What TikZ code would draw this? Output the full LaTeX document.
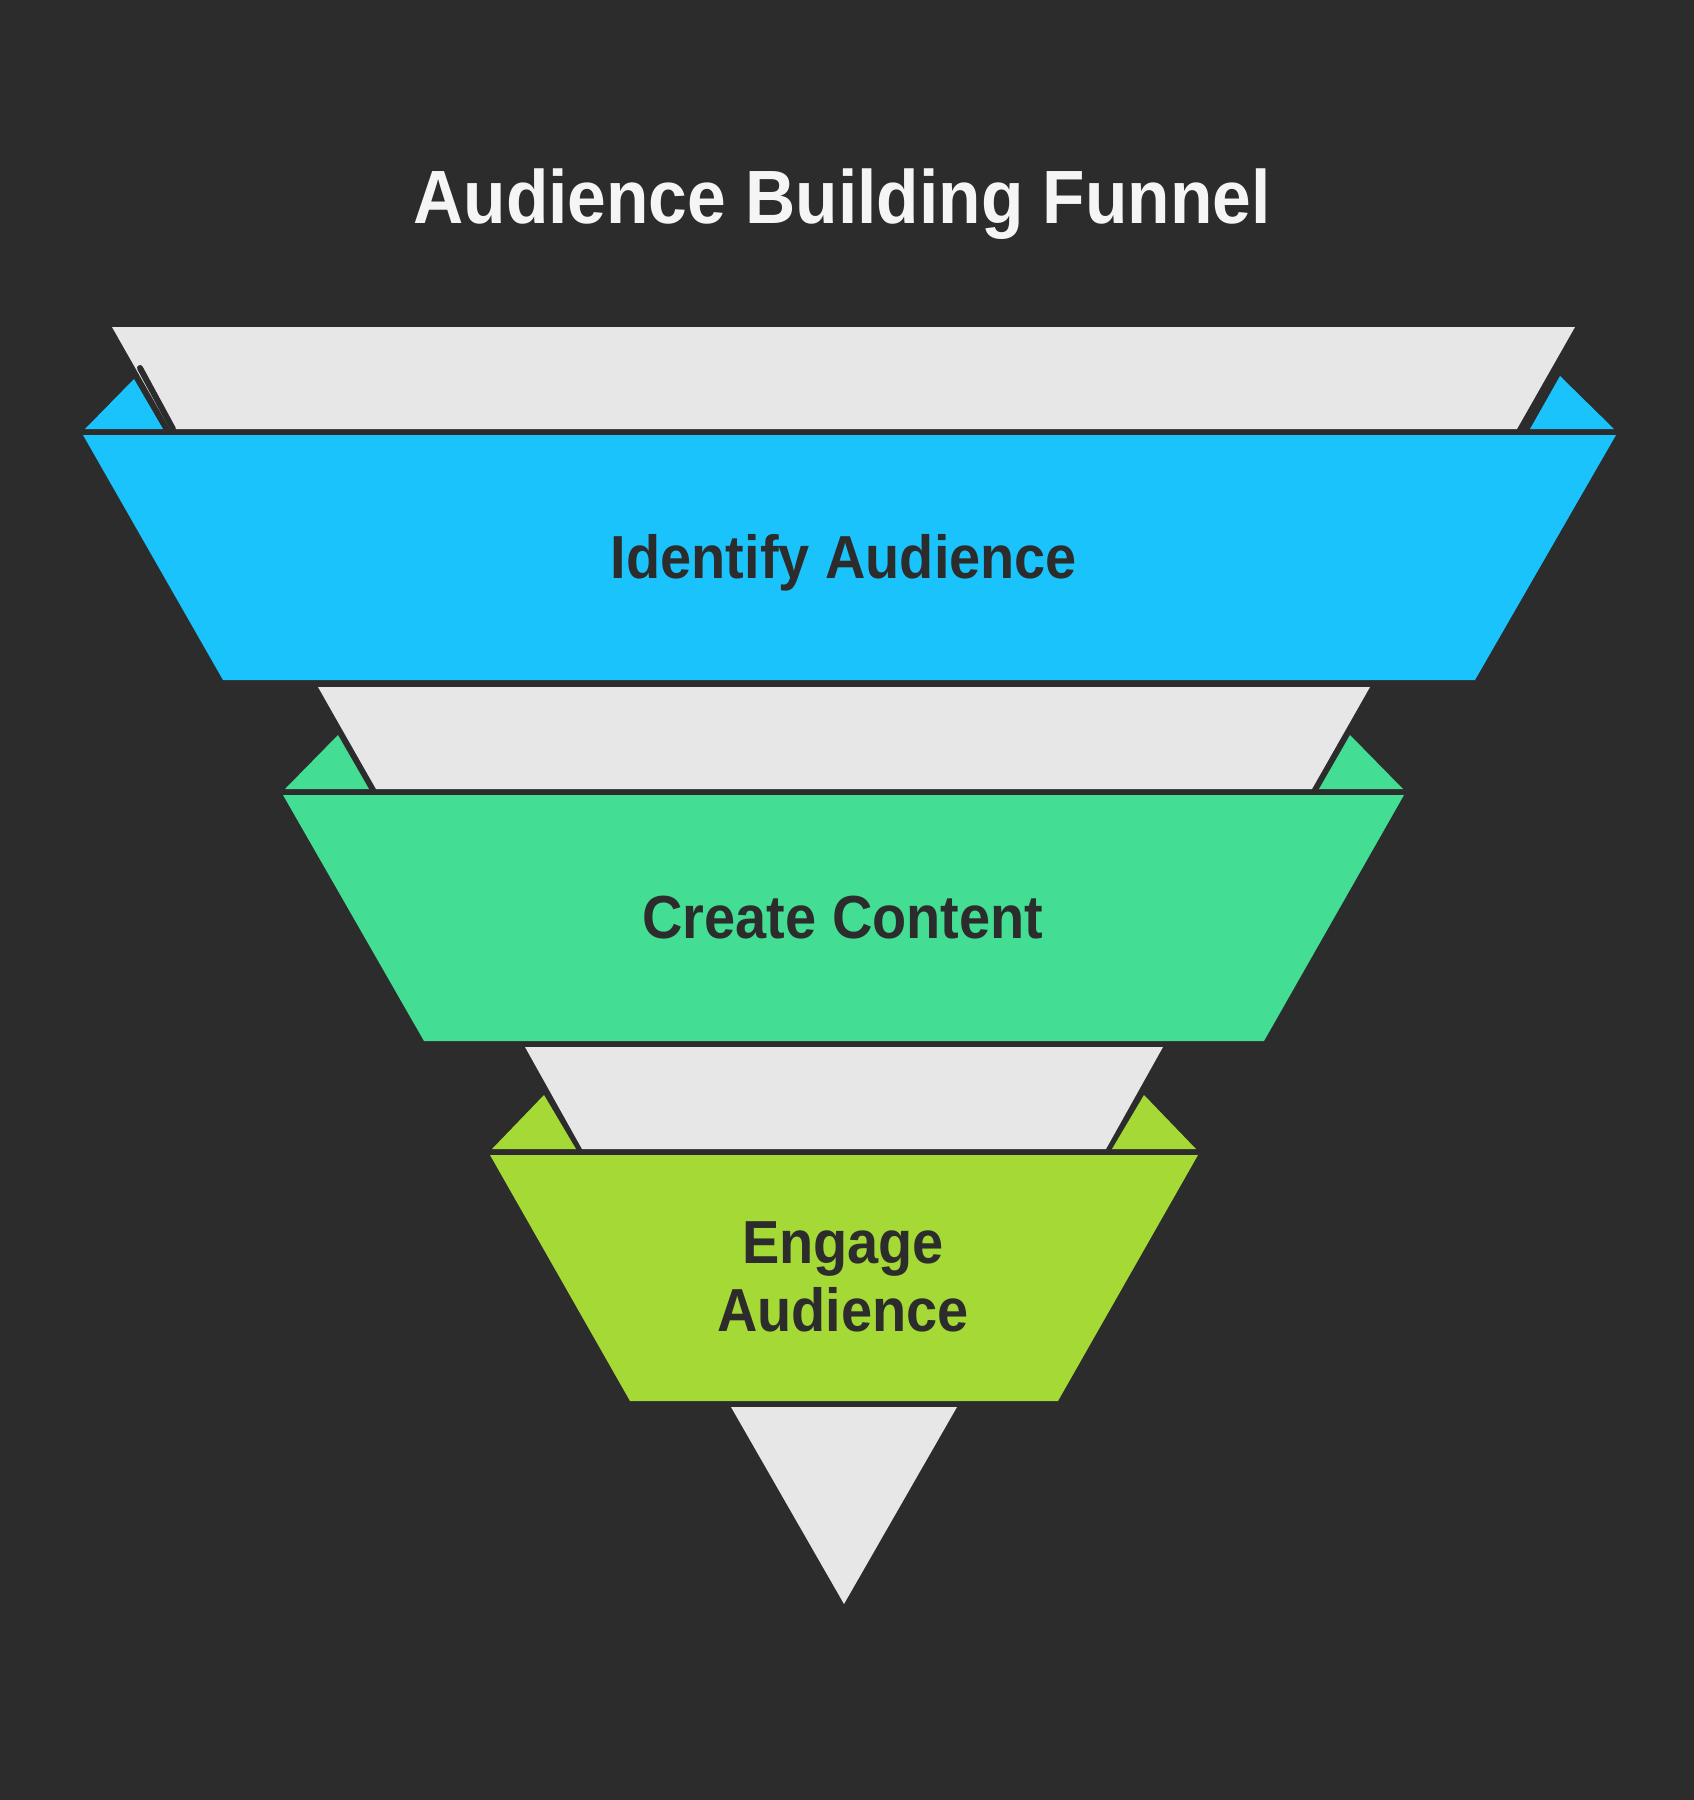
\documentclass[tikz,border=0pt]{standalone}
\usepackage{fontspec}
\setmainfont{Liberation Sans}[FakeStretch=0.92]
\usepackage{tikz}
\definecolor{darkbg}{HTML}{2C2C2C}
\definecolor{funnelgrey}{HTML}{E7E7E7}
\definecolor{skyblue}{HTML}{1BC3FC}
\definecolor{mint}{HTML}{43DD93}
\definecolor{lime}{HTML}{A4D936}
\definecolor{titlewhite}{HTML}{F5F5F5}

\begin{document}
\begin{tikzpicture}[x=0.02cm, y=-0.02cm,
  every node/.style={inner sep=0pt, anchor=base, align=center},
  title/.style={text=titlewhite, font=\bfseries\fontsize{43}{50}\selectfont},
  label/.style={text=darkbg, font=\bfseries\fontsize{34.6}{38.5}\selectfont},
  notch/.style={draw=darkbg, line width=3.4pt, line cap=round}]
  \fill[darkbg] (0,0) rectangle (1694,1800);
  \useasboundingbox (0,0) rectangle (1694,1800);

  \node[title] (title) at (842,223) {Audience Building Funnel};

  % top stage
  \fill[funnelgrey] (112,327) -- (1575,327) -- (1517,429) -- (170,429) -- cycle;
  \fill[skyblue] (85,429) -- (134,379) -- (163,429) -- cycle;
  \fill[skyblue] (1530,429) -- (1560,376) -- (1614,429) -- cycle;
  \draw[notch] (140,368) -- (173,429);
  \fill[skyblue] (83,435) -- (1616,435) -- (1475,680) -- (223,680) -- cycle;
  \node[label] (identify) at (844,578) {Identify Audience};

  % middle stage
  \fill[funnelgrey] (318,687) -- (1370,687) -- (1312,789) -- (376,789) -- cycle;
  \fill[mint] (285,789) -- (338,735) -- (369,789) -- cycle;
  \fill[mint] (1319,789) -- (1350,735) -- (1403,789) -- cycle;
  \fill[mint] (283,795) -- (1404,795) -- (1264,1041) -- (424,1041) -- cycle;
  \node[label] (create) at (843,938) {Create Content};

  % bottom stage
  \fill[funnelgrey] (525,1047) -- (1163,1047) -- (1106,1149) -- (582,1149) -- cycle;
  \fill[lime] (492,1149) -- (544,1095) -- (576,1149) -- cycle;
  \fill[lime] (1112,1149) -- (1144,1095) -- (1196,1149) -- cycle;
  \fill[lime] (490,1155) -- (1198,1155) -- (1058,1401) -- (630,1401) -- cycle;
  \node[label] (engage) at (843,1331) {Engage\\Audience};

  % funnel tip
  \fill[funnelgrey] (731,1407) -- (957,1407) -- (844,1604) -- cycle;
\end{tikzpicture}
\end{document}
